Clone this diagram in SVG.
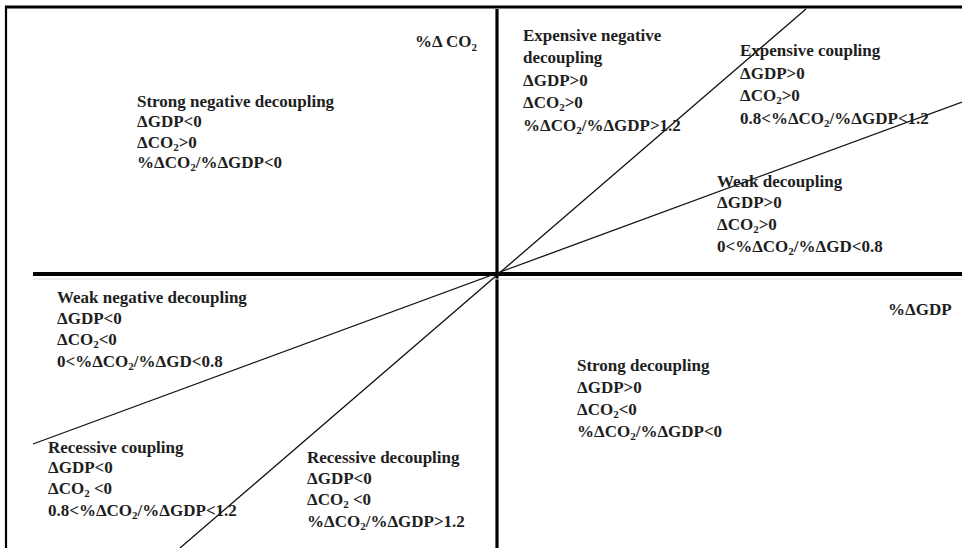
<svg xmlns="http://www.w3.org/2000/svg" width="962" height="548" viewBox="0 0 962 548">
<style>
text{font-family:"Liberation Serif","Times New Roman",serif;font-weight:bold;font-size:17px;fill:#1e1e1e}
.s{font-size:11px}
.ax{stroke:#000;fill:none}
.dg{stroke:#111;stroke-width:1.3;fill:none}
</style>
<rect width="962" height="548" fill="#fff"/>
<g id="frame">
<line class="ax" x1="5" y1="7" x2="962" y2="7" stroke-width="3"/>
<line class="ax" x1="6" y1="6" x2="6" y2="548" stroke-width="2.2"/>
</g>
<g id="connectors">
<line class="ax" x1="497" y1="9" x2="497" y2="548" stroke-width="3.2"/>
<line class="ax" x1="33" y1="274" x2="962" y2="274" stroke-width="4"/>
<line x1="33" y1="279" x2="962" y2="279" stroke="#ddd" stroke-width="1"/>
<line class="dg" x1="806" y1="9" x2="180" y2="548"/>
<line class="dg" x1="33" y1="444" x2="962" y2="102"/>
</g>
<g id="axis-co2"><text x="415" y="47">%Δ CO<tspan class="s" dy="4">2</tspan></text></g>
<g id="axis-gdp"><text x="888" y="315">%ΔGDP</text></g>
<g id="strong-negative-decoupling">
<text x="137" y="107">Strong negative decoupling</text>
<text x="137" y="127">ΔGDP&lt;0</text>
<text x="137" y="148">ΔCO<tspan class="s" dy="3">2</tspan><tspan dy="-3">&gt;0</tspan></text>
<text x="137" y="168">%ΔCO<tspan class="s" dy="3">2</tspan><tspan dy="-3">/%ΔGDP&lt;0</tspan></text>
</g>
<g id="expensive-negative-decoupling">
<text x="523" y="41">Expensive negative</text>
<text x="523" y="63">decoupling</text>
<text x="523" y="86">ΔGDP&gt;0</text>
<text x="523" y="108">ΔCO<tspan class="s" dy="3">2</tspan><tspan dy="-3">&gt;0</tspan></text>
<text x="523" y="131">%ΔCO<tspan class="s" dy="3">2</tspan><tspan dy="-3">/%ΔGDP&gt;1.2</tspan></text>
</g>
<g id="expensive-coupling">
<text x="740" y="56">Expensive coupling</text>
<text x="740" y="79">ΔGDP&gt;0</text>
<text x="740" y="101">ΔCO<tspan class="s" dy="3">2</tspan><tspan dy="-3">&gt;0</tspan></text>
<text x="740" y="124">0.8&lt;%ΔCO<tspan class="s" dy="3">2</tspan><tspan dy="-3">/%ΔGDP&lt;1.2</tspan></text>
</g>
<g id="weak-decoupling">
<text x="717" y="187">Weak decoupling</text>
<text x="717" y="208">ΔGDP&gt;0</text>
<text x="717" y="230">ΔCO<tspan class="s" dy="3">2</tspan><tspan dy="-3">&gt;0</tspan></text>
<text x="717" y="252">0&lt;%ΔCO<tspan class="s" dy="3">2</tspan><tspan dy="-3">/%ΔGD&lt;0.8</tspan></text>
</g>
<g id="weak-negative-decoupling">
<text x="57" y="303">Weak negative decoupling</text>
<text x="57" y="324">ΔGDP&lt;0</text>
<text x="57" y="345">ΔCO<tspan class="s" dy="3">2</tspan><tspan dy="-3">&lt;0</tspan></text>
<text x="57" y="367">0&lt;%ΔCO<tspan class="s" dy="3">2</tspan><tspan dy="-3">/%ΔGD&lt;0.8</tspan></text>
</g>
<g id="strong-decoupling">
<text x="577" y="371">Strong decoupling</text>
<text x="577" y="393">ΔGDP&gt;0</text>
<text x="577" y="415">ΔCO<tspan class="s" dy="3">2</tspan><tspan dy="-3">&lt;0</tspan></text>
<text x="577" y="437">%ΔCO<tspan class="s" dy="3">2</tspan><tspan dy="-3">/%ΔGDP&lt;0</tspan></text>
</g>
<g id="recessive-coupling">
<text x="48" y="453">Recessive coupling</text>
<text x="48" y="473">ΔGDP&lt;0</text>
<text x="48" y="494">ΔCO<tspan class="s" dy="3">2</tspan><tspan dy="-3"> &lt;0</tspan></text>
<text x="48" y="516">0.8&lt;%ΔCO<tspan class="s" dy="3">2</tspan><tspan dy="-3">/%ΔGDP&lt;1.2</tspan></text>
</g>
<g id="recessive-decoupling">
<text x="307" y="463">Recessive decoupling</text>
<text x="307" y="484">ΔGDP&lt;0</text>
<text x="307" y="505">ΔCO<tspan class="s" dy="3">2</tspan><tspan dy="-3"> &lt;0</tspan></text>
<text x="307" y="527">%ΔCO<tspan class="s" dy="3">2</tspan><tspan dy="-3">/%ΔGDP&gt;1.2</tspan></text>
</g>
</svg>
